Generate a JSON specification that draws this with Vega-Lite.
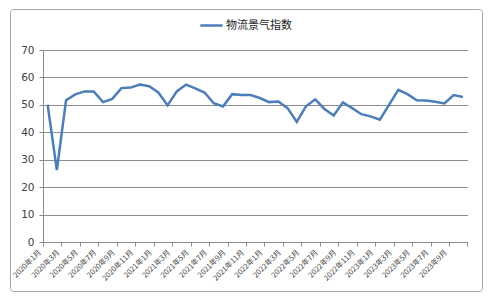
{
  "$schema": "https://vega.github.io/schema/vega-lite/v6.json",
  "width": 472,
  "height": 282,
  "autosize": {"type": "none"},
  "padding": {"left": 10, "top": 9, "right": 18, "bottom": 9},
  "background": "white",
  "config": {
    "view": {"stroke": "#a6a6a6", "strokeWidth": 1, "cornerRadius": 3},
    "font": "DejaVu Sans"
  },
  "data": {
    "values": [
      {"month": "2020年1月", "value": 50.1, "series": "物流景气指数"},
      {"month": "2020年2月", "value": 26.2, "series": "物流景气指数"},
      {"month": "2020年3月", "value": 51.7, "series": "物流景气指数"},
      {"month": "2020年4月", "value": 53.8, "series": "物流景气指数"},
      {"month": "2020年5月", "value": 54.9, "series": "物流景气指数"},
      {"month": "2020年6月", "value": 54.9, "series": "物流景气指数"},
      {"month": "2020年7月", "value": 51.0, "series": "物流景气指数"},
      {"month": "2020年8月", "value": 52.2, "series": "物流景气指数"},
      {"month": "2020年9月", "value": 56.1, "series": "物流景气指数"},
      {"month": "2020年10月", "value": 56.3, "series": "物流景气指数"},
      {"month": "2020年11月", "value": 57.4, "series": "物流景气指数"},
      {"month": "2020年12月", "value": 56.8, "series": "物流景气指数"},
      {"month": "2021年1月", "value": 54.5, "series": "物流景气指数"},
      {"month": "2021年2月", "value": 49.8, "series": "物流景气指数"},
      {"month": "2021年3月", "value": 54.9, "series": "物流景气指数"},
      {"month": "2021年4月", "value": 57.4, "series": "物流景气指数"},
      {"month": "2021年5月", "value": 56.0, "series": "物流景气指数"},
      {"month": "2021年6月", "value": 54.5, "series": "物流景气指数"},
      {"month": "2021年7月", "value": 50.6, "series": "物流景气指数"},
      {"month": "2021年8月", "value": 49.4, "series": "物流景气指数"},
      {"month": "2021年9月", "value": 53.9, "series": "物流景气指数"},
      {"month": "2021年10月", "value": 53.6, "series": "物流景气指数"},
      {"month": "2021年11月", "value": 53.6, "series": "物流景气指数"},
      {"month": "2021年12月", "value": 52.5, "series": "物流景气指数"},
      {"month": "2022年1月", "value": 51.0, "series": "物流景气指数"},
      {"month": "2022年2月", "value": 51.2, "series": "物流景气指数"},
      {"month": "2022年3月", "value": 48.8, "series": "物流景气指数"},
      {"month": "2022年4月", "value": 43.8, "series": "物流景气指数"},
      {"month": "2022年5月", "value": 49.5, "series": "物流景气指数"},
      {"month": "2022年6月", "value": 52.0, "series": "物流景气指数"},
      {"month": "2022年7月", "value": 48.5, "series": "物流景气指数"},
      {"month": "2022年8月", "value": 46.1, "series": "物流景气指数"},
      {"month": "2022年9月", "value": 50.9, "series": "物流景气指数"},
      {"month": "2022年10月", "value": 48.8, "series": "物流景气指数"},
      {"month": "2022年11月", "value": 46.6, "series": "物流景气指数"},
      {"month": "2022年12月", "value": 45.8, "series": "物流景气指数"},
      {"month": "2023年1月", "value": 44.6, "series": "物流景气指数"},
      {"month": "2023年2月", "value": 50.0, "series": "物流景气指数"},
      {"month": "2023年3月", "value": 55.5, "series": "物流景气指数"},
      {"month": "2023年4月", "value": 53.9, "series": "物流景气指数"},
      {"month": "2023年5月", "value": 51.7, "series": "物流景气指数"},
      {"month": "2023年6月", "value": 51.6, "series": "物流景气指数"},
      {"month": "2023年7月", "value": 51.1, "series": "物流景气指数"},
      {"month": "2023年8月", "value": 50.5, "series": "物流景气指数"},
      {"month": "2023年9月", "value": 53.6, "series": "物流景气指数"},
      {"month": "2023年10月", "value": 52.9, "series": "物流景气指数"}
    ]
  },
  "mark": {"type": "line", "strokeWidth": 2.5},
  "encoding": {
    "x": {
      "field": "month",
      "type": "ordinal",
      "sort": null,
      "scale": {"type": "band", "paddingInner": 0, "paddingOuter": 0, "range": [33, 457.5]},
      "axis": {
        "title": null,
        "offset": -49,
        "tickBand": "extent",
        "tickOpacity": {
          "condition": {"test": "!isString(datum.value) || test(/年(2|4|6|8|10|12)月$/, datum.value)", "value": 1},
          "value": 0
        },
        "labelAngle": -45,
        "labelAlign": "right",
        "labelBaseline": "middle",
        "labelFont": "Noto Sans CJK SC",
        "labelFontSize": 7.5,
        "labelColor": "#404040",
        "labelPadding": 5,
        "labelOffset": -8,
        "labelOverlap": false,
        "labelExpr": "test(/年(1|3|5|7|9|11)月$/, datum.value) ? datum.value : ''",
        "domainColor": "#8c8c8c",
        "tickColor": "#8c8c8c",
        "tickSize": 4,
        "grid": false
      }
    },
    "y": {
      "field": "value",
      "type": "quantitative",
      "scale": {"domain": [0, 70], "range": [233, 41], "nice": false},
      "axis": {
        "title": null,
        "offset": -33,
        "values": [0, 10, 20, 30, 40, 50, 60, 70],
        "grid": true,
        "gridColor": "#8c8c8c",
        "gridWidth": 1,
        "domainColor": "#8c8c8c",
        "tickColor": "#8c8c8c",
        "tickSize": 4,
        "labelFontSize": 10.5,
        "labelColor": "#404040",
        "labelPadding": 5
      }
    },
    "color": {
      "field": "series",
      "type": "nominal",
      "scale": {"range": ["#4a7ebb"]},
      "legend": {
        "orient": "none",
        "legendX": 189,
        "legendY": 4,
        "title": null,
        "symbolType": "stroke",
        "symbolSize": 500,
        "symbolStrokeWidth": 2.5,
        "labelFont": "Noto Sans CJK SC",
        "labelFontSize": 11,
        "labelColor": "#222222",
        "labelOffset": 2
      }
    }
  }
}
